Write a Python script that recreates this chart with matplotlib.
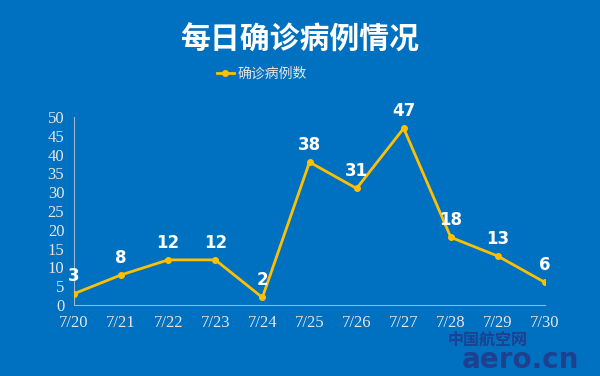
import matplotlib
matplotlib.use("Agg")
import matplotlib.pyplot as plt
from matplotlib.lines import Line2D

dates = ["7/20", "7/21", "7/22", "7/23", "7/24", "7/25", "7/26", "7/27", "7/28", "7/29", "7/30"]
cases = [3, 8, 12, 12, 2, 38, 31, 47, 18, 13, 6]
yticks = [0, 5, 10, 15, 20, 25, 30, 35, 40, 45, 50]

BG = "#0070C0"
LINE = "#FFC000"
CJK = ["Noto Sans CJK SC", "DejaVu Sans"]

fig = plt.figure(figsize=(6, 3.76), dpi=100, facecolor=BG)
ax = fig.add_axes([74/600, 1-305/376, (545-74)/600, (305-117)/376])
ax.set_facecolor(BG)
x = list(range(len(dates)))
ax.plot(x, cases, color=LINE, lw=2, marker="o", ms=4, mfc=LINE, mec=LINE, zorder=3)
for xi, v in zip(x, cases):
    ax.annotate(str(v), (xi, v), xytext=(0, 6), textcoords="offset points",
                ha="center", va="bottom", color="white", fontsize=12,
                fontweight="bold", family=["DejaVu Sans"])
ax.set_xlim(0, 10)
ax.set_ylim(0, 50)
ax.set_xticks(x)
ax.set_xticklabels(dates)
ax.set_yticks(yticks)
ax.tick_params(length=0, colors="#E6E6E6", labelsize=12, pad=7)
for lab in ax.get_xticklabels() + ax.get_yticklabels():
    lab.set_family("Liberation Serif")
ax.tick_params(axis="y", pad=7)
for s in ["top", "right"]:
    ax.spines[s].set_visible(False)
for s in ["left", "bottom"]:
    ax.spines[s].set_color("#9DB5CC")
    ax.spines[s].set_linewidth(0.8)

fig.text(0.5, 1-40/376, "每日确诊病例情况", ha="center", va="center", color="white",
         fontsize=21.5, fontweight="bold", family=CJK)
h = Line2D([], [], color=LINE, lw=2, marker="o", ms=4)
leg = fig.legend([h], ["确诊病例数"], loc="center", bbox_to_anchor=(262/600, 1-74/376),
                 frameon=False, prop={"family": CJK, "size": 10}, handlelength=1.2,
                 handletextpad=0.3, labelcolor="#E6E6E6")

fig.text(488/600, 1-340/376, "中国航空网", ha="center", va="center", color="#1F3F8F",
         fontsize=11.5, fontweight="bold", family=CJK)
fig.text(520/600, 1-360/376, "aero.cn", ha="center", va="center", color="#1F3F8F",
         fontsize=20, fontweight="bold", family=["DejaVu Sans"])

fig.savefig("out.png", dpi=100, facecolor=BG)
